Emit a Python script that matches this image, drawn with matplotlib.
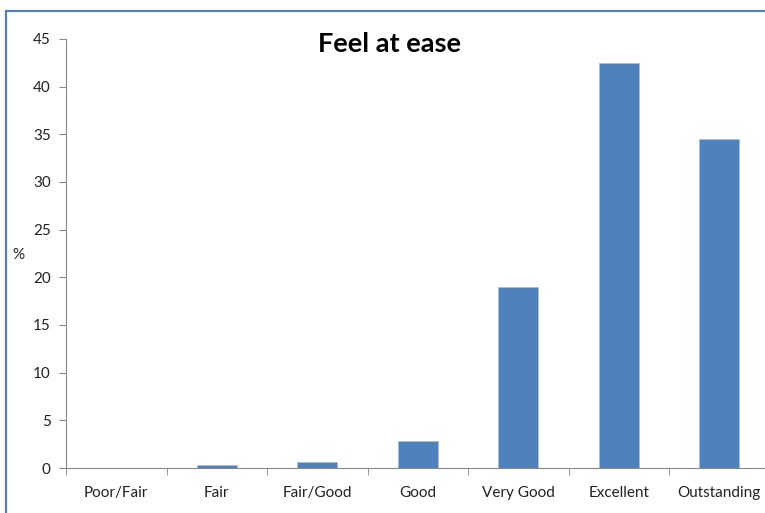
import matplotlib.pyplot as plt
from matplotlib.patches import Rectangle
import numpy as np

categories = ['Poor/Fair', 'Fair', 'Fair/Good', 'Good', 'Very Good', 'Excellent', 'Outstanding']
percent = [0.0, 0.3, 0.6, 2.8, 19.0, 42.5, 34.5]

plt.rcParams['font.family'] = ['Lato', 'DejaVu Sans']

W, H = 765, 513
fig = plt.figure(figsize=(W / 100, H / 100), dpi=100)

# chart area border (runs off the right and bottom edges)
fig.patches.append(Rectangle((6 / W, -0.1), 1.2, (H - 11) / H + 0.1,
                             transform=fig.transFigure, fill=False,
                             edgecolor='#4F81BD', linewidth=1.6))

ax = fig.add_axes([66 / W, 45 / H, 703.5 / W, 429 / H])
x = np.arange(len(categories))
ax.bar(x, percent, width=0.4, color='#4F81BD', edgecolor='#A7BFDE', linewidth=0.6)

ax.set_xlim(-0.5, len(categories) - 0.5)
ax.set_ylim(0, 45)
ax.set_yticks(range(0, 46, 5))
ax.set_xticks(x)
ax.set_xticklabels(categories)
ax.set_xticks(np.arange(-0.5, len(categories), 1), minor=True)
ax.tick_params(axis='x', which='major', length=0, pad=13, labelsize=11, labelcolor='#222222')
ax.tick_params(axis='x', which='minor', length=5, color='#888888', direction='out')
ax.tick_params(axis='y', length=5, color='#888888', labelsize=11, labelcolor='#222222', pad=6)

for s in ['top', 'right']:
    ax.spines[s].set_visible(False)
for s in ['left', 'bottom']:
    ax.spines[s].set_color('#888888')
    ax.spines[s].set_linewidth(0.8)

fig.text(390 / W, 1 - 44 / H, 'Feel at ease', ha='center', va='center',
         fontsize=19.5, fontweight='bold', color='#000000')
fig.text(18 / W, 1 - 255 / H, '%', ha='center', va='center', fontsize=11, color='#222222')

fig.savefig('out.png', dpi=100)
